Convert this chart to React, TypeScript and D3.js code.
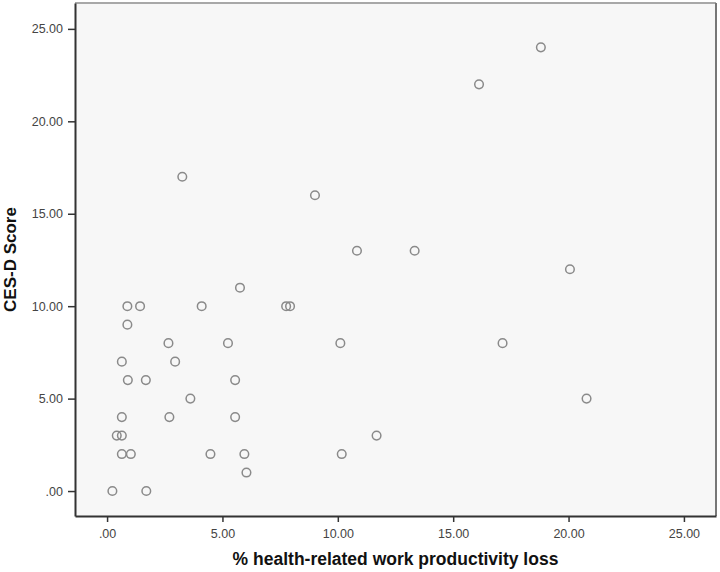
import React, { useRef, useEffect } from 'react';
import { select, scaleLinear, axisBottom, axisLeft, format } from 'd3';

// % health-related work productivity loss
const lossValues = [
  18.8, 16.12, 3.26, 9.01, 10.83, 13.33, 20.06, 5.76, 0.88, 1.43, 4.1, 7.76, 7.93,
  0.88, 2.66, 5.24, 10.11, 17.14, 0.64, 2.95, 0.9, 1.68, 5.55, 3.61, 20.78, 0.64,
  2.7, 5.55, 0.42, 0.64, 11.68, 0.64, 1.03, 4.48, 5.95, 10.17, 6.04, 0.23, 1.7
];
// CES-D score
const cesdValues = [
  24, 22, 17, 16, 13, 13, 12, 11, 10, 10, 10, 10, 10,
  9, 8, 8, 8, 8, 7, 7, 6, 6, 6, 5, 5, 4,
  4, 4, 3, 3, 3, 2, 2, 2, 2, 2, 1, 0, 0
];
const xTicks = [0, 5, 10, 15, 20, 25];
const yTicks = [0, 5, 10, 15, 20, 25];
const xTitle = '% health-related work productivity loss';
const yTitle = 'CES-D Score';

const W = 720;
const H = 572;
const left = 75, right = 716, top = 3, bottom = 516;
const FONT = 'Arial, "Liberation Sans", sans-serif';

const tickFmt = (v: number) => format('.2f')(v).replace(/^0\./, '.');

const App = () => {
  const svgRef = useRef<SVGSVGElement>(null);

  useEffect(() => {
    const svg = select(svgRef.current);
    svg.selectAll('*').remove();

    const x = scaleLinear().domain([-1.39, 26.39]).range([left, right]);
    const y = scaleLinear().domain([-1.35, 26.4]).range([bottom, top]);

    svg.append('rect')
      .attr('x', left).attr('y', top)
      .attr('width', right - left).attr('height', bottom - top)
      .attr('fill', '#f7f7f7');

    // frame: light top, darker right
    svg.append('line').attr('x1', left).attr('x2', right).attr('y1', top).attr('y2', top)
      .attr('stroke', '#a8a8a8').attr('stroke-width', 2);
    svg.append('line').attr('x1', right).attr('x2', right).attr('y1', top).attr('y2', bottom)
      .attr('stroke', '#777').attr('stroke-width', 2);

    const xAxis = axisBottom(x).tickValues(xTicks).tickFormat(tickFmt as any).tickSize(6).tickSizeOuter(0);
    const gx = svg.append('g').attr('transform', `translate(0,${bottom})`).call(xAxis);
    gx.select('.domain').attr('stroke', '#333').attr('stroke-width', 2);
    gx.selectAll('.tick line').attr('stroke', '#333').attr('stroke-width', 1.5);
    gx.selectAll('.tick text').attr('font-family', FONT).attr('font-size', 12.5)
      .attr('fill', '#444').attr('dy', '1.05em');

    const yAxis = axisLeft(y).tickValues(yTicks).tickFormat(tickFmt as any).tickSize(7).tickSizeOuter(0);
    const gy = svg.append('g').attr('transform', `translate(${left},0)`).call(yAxis);
    gy.select('.domain').attr('stroke', '#333').attr('stroke-width', 2);
    gy.selectAll('.tick line').attr('stroke', '#333').attr('stroke-width', 1.5);
    gy.selectAll('.tick text').attr('font-family', FONT).attr('font-size', 12.5)
      .attr('fill', '#444').attr('x', -12);

    svg.selectAll('.pt')
      .data(lossValues)
      .join('circle')
      .attr('class', 'pt')
      .attr('cx', d => x(d))
      .attr('cy', (d, i) => y(cesdValues[i]))
      .attr('r', 4.3)
      .attr('fill', 'none')
      .attr('stroke', '#8a8a8a')
      .attr('stroke-width', 1.5);

    svg.append('text')
      .attr('x', (left + right) / 2).attr('y', 565)
      .attr('text-anchor', 'middle')
      .attr('font-family', FONT).attr('font-weight', 'bold').attr('font-size', 17.5)
      .attr('fill', '#111')
      .text(xTitle);

    svg.append('text')
      .attr('transform', `translate(16,${(top + bottom) / 2}) rotate(-90)`)
      .attr('text-anchor', 'middle')
      .attr('font-family', FONT).attr('font-weight', 'bold').attr('font-size', 17)
      .attr('fill', '#111')
      .text(yTitle);
  }, []);

  return (
    <svg ref={svgRef} width={W} height={H}
      style={{ position: 'absolute', left: 0, top: 0, background: '#fff' }} />
  );
};

export default App;
